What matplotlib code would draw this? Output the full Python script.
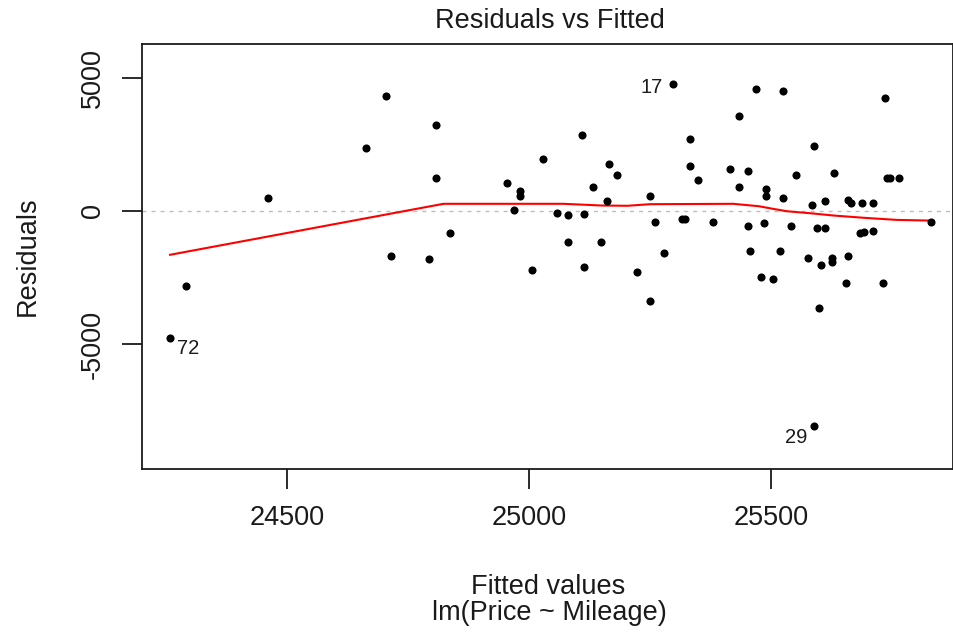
import numpy as np
import matplotlib
matplotlib.use("Agg")
import matplotlib.pyplot as plt

plt.rcParams['font.family'] = ['Liberation Sans', 'DejaVu Sans']

# fitted values and residuals
fitted = [24258, 24291, 24460, 24663, 24704, 24714, 24794, 24808, 24808, 24837,
          24954, 24981, 24981, 24968, 25005, 25029, 25057, 25081, 25081, 25110,
          25114, 25114, 25133, 25148, 25161, 25165, 25181, 25222, 25250, 25250,
          25260, 25279, 25298, 25315, 25322, 25333, 25333, 25349, 25381, 25415,
          25434, 25434, 25453, 25453, 25457, 25468, 25490, 25490, 25486, 25480,
          25504, 25524, 25524, 25518, 25542, 25552, 25576, 25585, 25589, 25589,
          25594, 25612, 25612, 25600, 25604, 25626, 25626, 25630, 25660, 25665,
          25660, 25655, 25687, 25684, 25692, 25711, 25711, 25731, 25736, 25739,
          25746, 25765, 25830]
resid = [-4765, -2805, 464, 2360, 4320, -1685, -1820, 3216, 1244, -829,
         1055, 754, 550, 38, -2213, 1934, -64, -139, -1169, 2865,
         -113, -2126, 890, -1169, 388, 1745, 1331, -2288, 550, -3393,
         -403, -1583, 4761, -302, -302, 2688, 1670, 1142, -403, 1583,
         3555, 890, 1493, -554, -1523, 4584, 829, 550, -467, -2466,
         -2541, 4498, 475, -1523, -554, 1331, -1772, 226, 2435, -8090,
         -656, -656, 388, -3657, -2024, -1772, -1938, 1418, 415, 287,
         -1685, -2714, 287, -844, -807, 287, -743, -2714, 4245, 1244,
         1244, 1244, -403]

# smoother (red line)
smooth_x = [24258, 24823, 25071, 25150, 25203, 25250, 25422, 25475, 25504,
            25533, 25581, 25630, 25694, 25760, 25830]
smooth_y = [-1650, 264, 264, 200, 190, 250, 264, 173, 75,
            -15, -90, -177, -264, -340, -366]

# labelled points: name, x, y, offset (points), alignment
labels = ["72", "17", "29"]
label_x = [24258, 25298, 25589]
label_y = [-4765, 4761, -8090]

xticks = [24500, 25000, 25500]
yticks = [-5000, 0, 5000]

fig = plt.figure(figsize=(9.54, 6.38), dpi=100)
ax = fig.add_axes([142/954, 1 - 469/638, (953 - 142)/954, (469 - 44)/638])

ax.axhline(0, color='#bebebe', lw=1, linestyle=(0, (2.9, 3.6)), zorder=1)
ax.scatter(fitted, resid, s=34, color='black', linewidths=0, zorder=3)
ax.plot(smooth_x, smooth_y, color='red', lw=1.5, zorder=2)

# point ids
offsets = [(5, -8), (-7.5, -2.5), (-4.5, -8.3)]
aligns = ['left', 'right', 'right']
for lab, px, py, off, ha in zip(labels, label_x, label_y, offsets, aligns):
    ax.annotate(lab, (px, py), xytext=off, textcoords='offset points',
                ha=ha, va='center', fontsize=14.5, color='#1a1a1a')

ax.set_xlim(24200, 25876)
ax.set_ylim(-9694, 6265)
ax.set_xticks(xticks)
ax.set_yticks(yticks)
ax.set_xticklabels([str(t) for t in xticks])
ax.set_yticklabels([str(t) for t in yticks])
ax.tick_params(axis='both', direction='out', length=14.4, width=1.3,
               labelsize=19.5, pad=11.5, colors='#1a1a1a')
plt.setp(ax.get_yticklabels(), rotation=90, va='center')
for s in ax.spines.values():
    s.set_linewidth(1.3)
    s.set_color('#1a1a1a')

# titles and axis labels placed like the R plot
fig.text(550/954, 1 - 28/638, "Residuals vs Fitted", ha='center', va='baseline',
         fontsize=19.5, color='#1a1a1a')
fig.text(548/954, 1 - 594/638, "Fitted values", ha='center', va='baseline',
         fontsize=19.5, color='#1a1a1a')
fig.text(549/954, 1 - 619.5/638, "lm(Price ~ Mileage)", ha='center', va='baseline',
         fontsize=19.5, color='#1a1a1a')
fig.text(35/954, 1 - 256/638, "Residuals", ha='center', va='baseline',
         rotation=90, rotation_mode='anchor', fontsize=19.5, color='#1a1a1a')

fig.savefig("out.png", dpi=100)
